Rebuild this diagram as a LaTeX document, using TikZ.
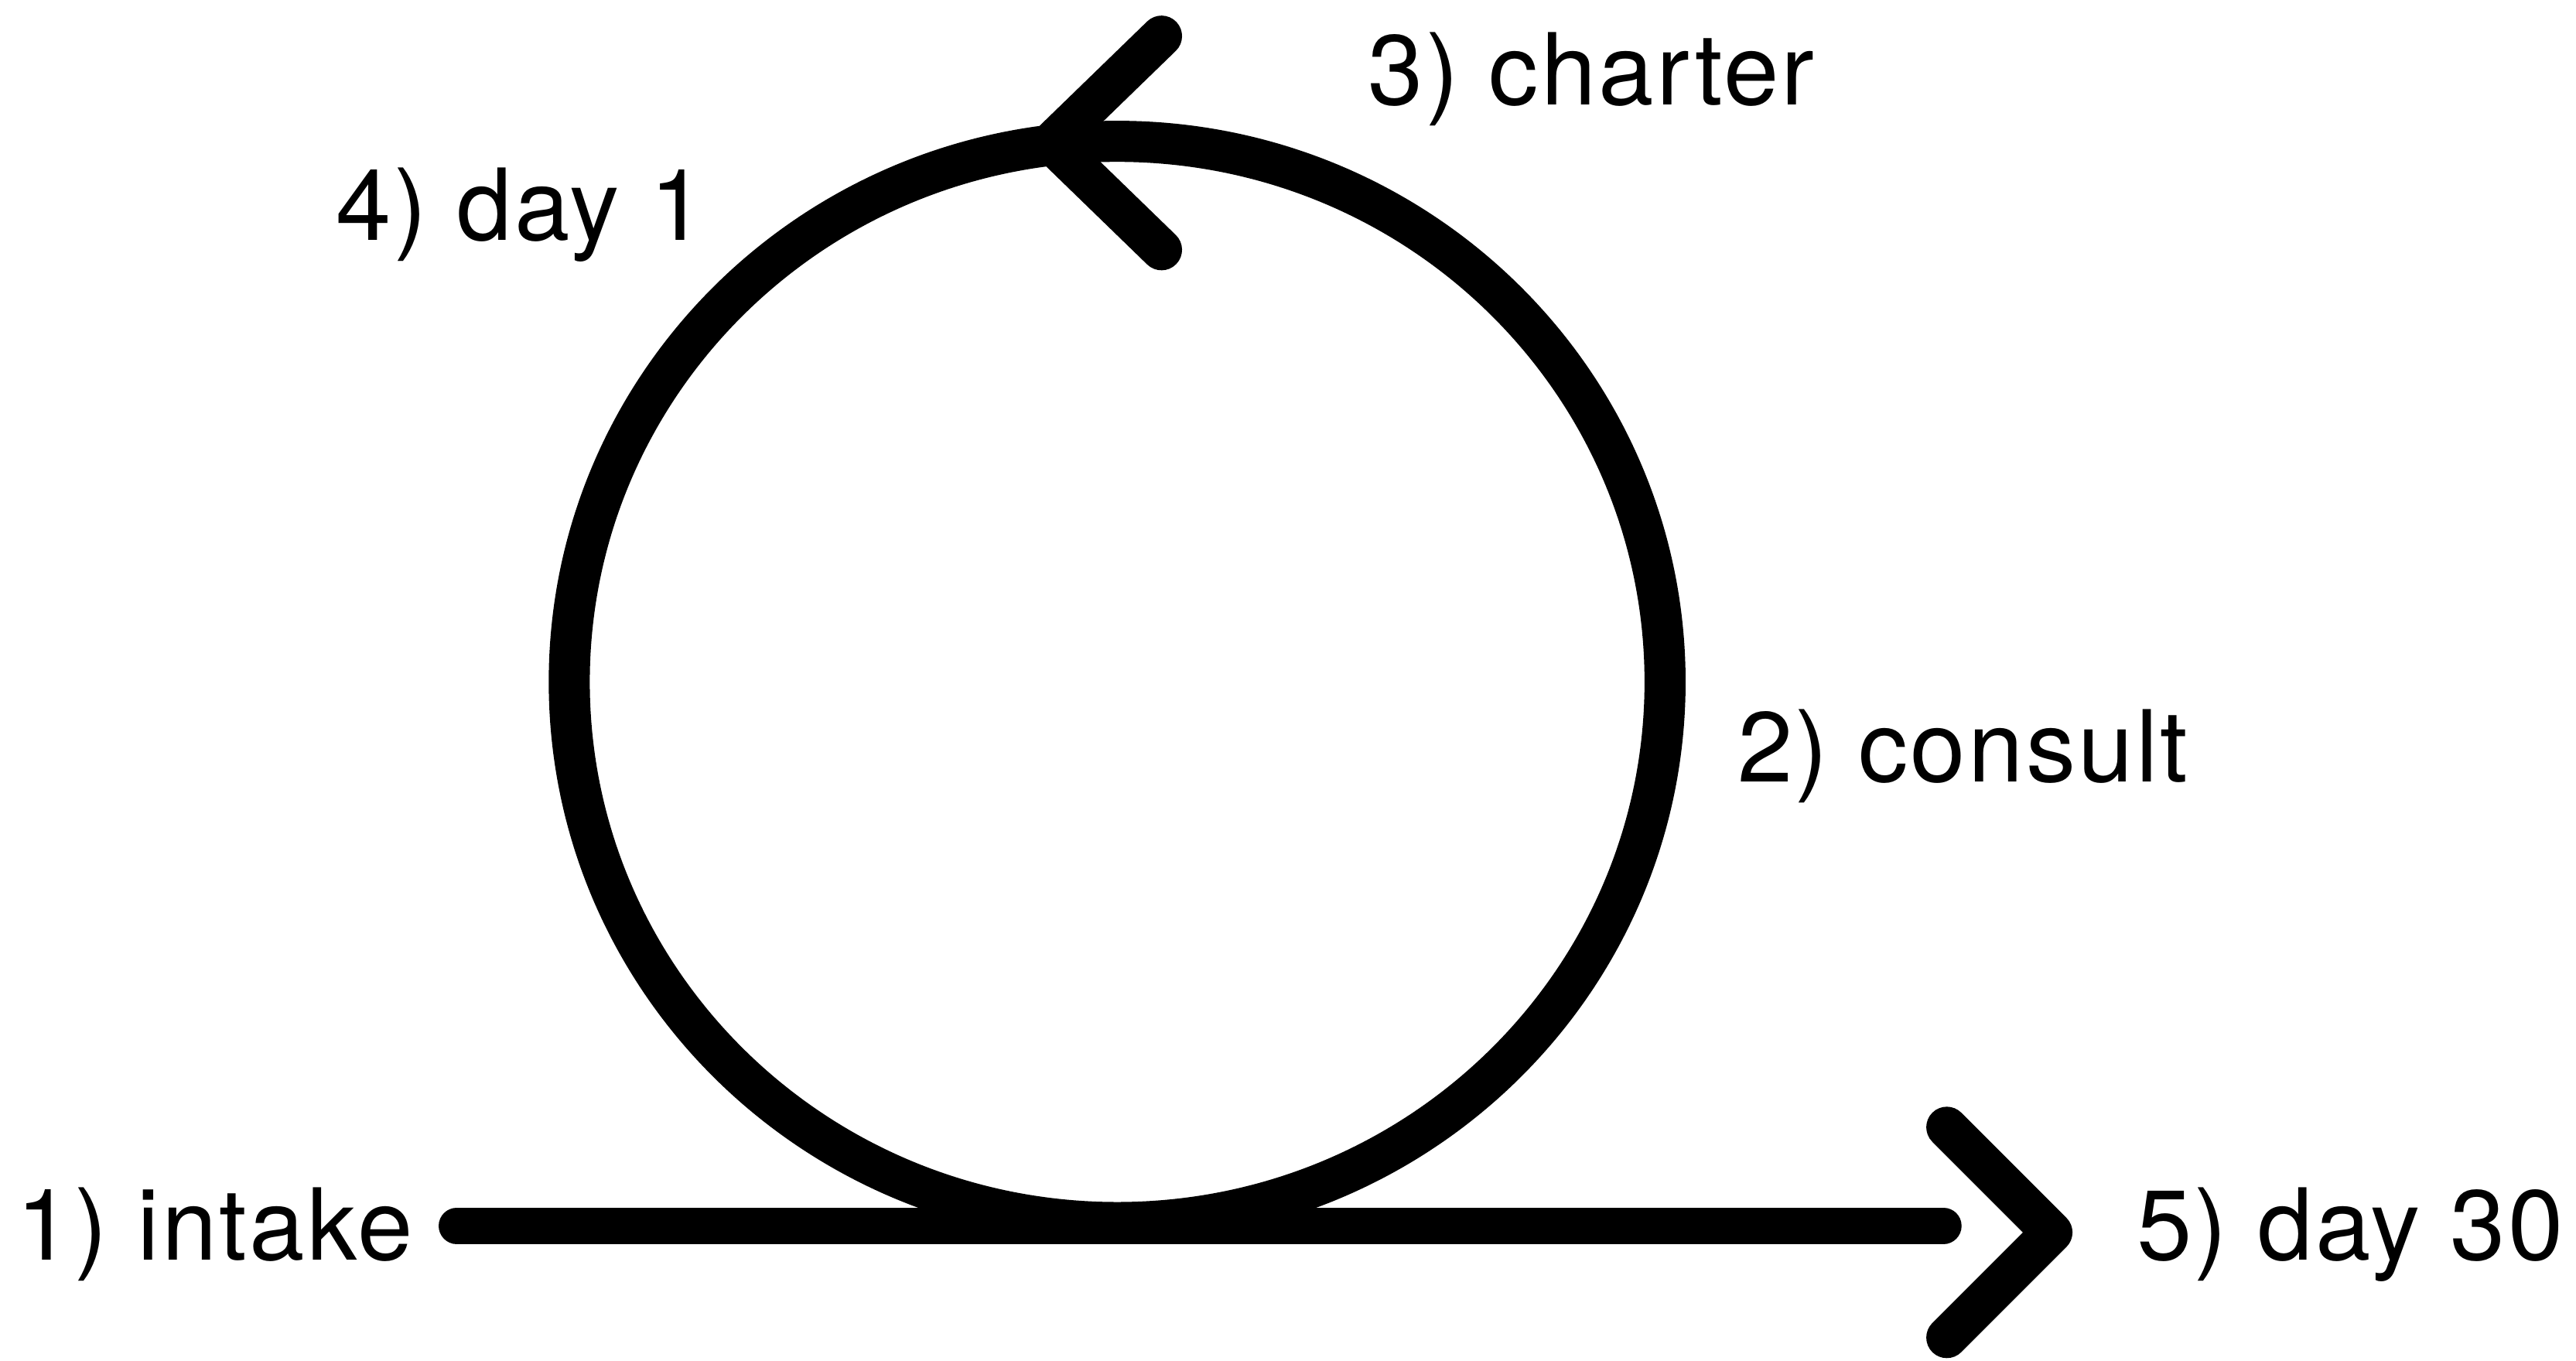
\documentclass[tikz,border=0pt]{standalone}
\usepackage{fontspec}
\setmainfont{TeX Gyre Heros}[LetterSpace=2.5]
\usepackage{tikz}
\usetikzlibrary{calc, positioning}

\begin{document}
\begin{tikzpicture}[
    lbl/.style={font=\fontsize{17.2}{20}\selectfont, inner sep=0pt, anchor=base west},
    stroke/.style={line width=0.25cm, line cap=round, line join=round},
    shaft/.style={stroke, line width=0.22cm}
]
\useasboundingbox (0,0) rectangle (15.68,8.28);

% Loop (centre of the circle and its touching point on the line)
\coordinate (loopc) at (6.80,4.13);
\coordinate (looptop) at (6.40,7.41);
\draw[stroke] (loopc) ellipse[x radius=3.335, y radius=3.29];

% Main line with the head at its right end
\coordinate (start) at (2.78,0.82);
\coordinate (finish) at (11.83,0.82);
\coordinate (tip) at (12.49,0.78);
\draw[shaft] (start) -- (finish);
\draw[stroke] ($(tip)+(-0.64,0.64)$) -- (tip) -- ($(tip)+(-0.64,-0.64)$);

% Head on the top of the loop, pointing left
\draw[stroke] ($(looptop)+(0.67,0.65)$) -- (looptop) -- ($(looptop)+(0.67,-0.65)$);

% Labels
\node[lbl, anchor=base east] (intake) at (2.52,0.61) {1) intake};
\node[lbl] (consult) at (10.57,3.52) {2) consult};
\node[lbl] (charter) at (8.32,7.64) {3) charter};
\node[lbl] (dayone) at (2.04,6.82) {4) day 1};
\node[lbl] (daythirty) at (13.00,0.61) {5) day 30};
\end{tikzpicture}
\end{document}
